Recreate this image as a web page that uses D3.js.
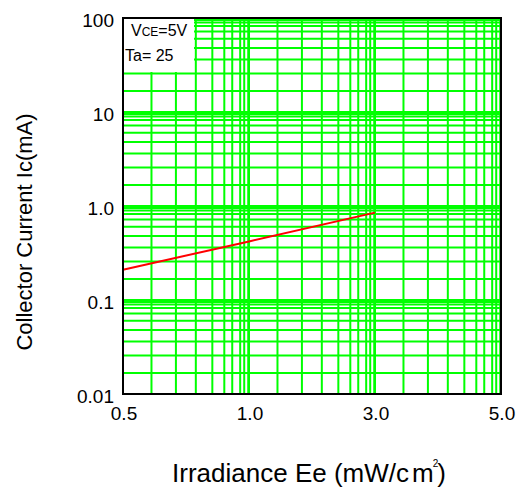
<!DOCTYPE html>
<html lang="en">
<head>
    <meta charset="UTF-8">
    <script src="https://d3js.org/d3.v7.min.js"></script>
    <title>Collector Current vs Irradiance</title>
    <style>
        body { margin: 0; background: #fff; }
        text { font-family: "Liberation Sans", Arial, sans-serif; fill: #000; }
    </style>
</head>
<body>
    <svg width="519" height="487" id="chart"></svg>
    <script>

        // data
        let irradiance = [0.5, 1.0, 3.0];
        let current = [0.21, 0.42, 0.85];

        // axis ticks
        let xTicks = [0.5, 1.0, 3.0, 5.0];
        let xTickLabels = ["0.5", "1.0", "3.0", "5.0"];
        let yTicks = [0.01, 0.1, 1, 10, 100];
        let yTickLabels = ["0.01", "0.1", "1.0", "10", "100"];

        // minor grid lines inside each cell, as fraction of the cell
        let xMinorFrac = [0.226, 0.42, 0.578, 0.709, 0.804, 0.867, 0.93, 0.962, 0.994];
        let yMinorFrac = [0.223, 0.41, 0.559, 0.68, 0.78, 0.856, 0.915, 0.952, 0.979];

        let pLeft = 123, pRight = 501, pTop = 18, pBottom = 394;

        let svg = d3.select("#chart");

        // x axis is split into equal cells, one per tick interval
        let xCell = d3.scaleLinear().domain([0, xTicks.length - 1]).range([pLeft, pRight]);
        let x = d3.scaleLog()
            .domain(xTicks)
            .range(xTicks.map((d, i) => xCell(i)));
        let yCell = d3.scaleLinear().domain([0, yTicks.length - 1]).range([pBottom, pTop]);
        let y = d3.scaleLog().domain([yTicks[0], yTicks[yTicks.length - 1]]).range([pBottom, pTop]);

        let xGrid = [], yGrid = [];
        for (let i = 0; i < xTicks.length - 1; i++) {
            if (i > 0) xGrid.push(xCell(i));
            xMinorFrac.forEach(f => xGrid.push(xCell(i + f)));
        }
        for (let i = 0; i < yTicks.length - 1; i++) {
            if (i > 0) yGrid.push(yCell(i));
            yMinorFrac.forEach(f => yGrid.push(yCell(i + f)));
        }

        let grid = svg.append("g").attr("class", "grid");
        grid.selectAll(".vx").data(xGrid).enter().append("line")
            .attr("x1", d => d).attr("x2", d => d)
            .attr("y1", pTop).attr("y2", pBottom)
            .attr("style", "stroke: #00ff00; stroke-width: 2");
        grid.selectAll(".hy").data(yGrid).enter().append("line")
            .attr("x1", pLeft).attr("x2", pRight)
            .attr("y1", d => d).attr("y2", d => d)
            .attr("style", "stroke: #00ff00; stroke-width: 2");

        // legend box covers the grid
        svg.append("rect")
            .attr("x", pLeft).attr("y", pTop)
            .attr("width", 71).attr("height", 54)
            .attr("fill", "#fff");

        let t1 = svg.append("text").attr("x", 131).attr("y", 36).attr("font-size", 16);
        t1.append("tspan").text("V");
        t1.append("tspan").attr("font-size", 12).text("CE");
        t1.append("tspan").text("=5V");
        svg.append("text").attr("x", 125).attr("y", 61).attr("font-size", 16).text("Ta= 25");

        // curve
        let line = d3.line().x(d => x(d[0])).y(d => y(d[1]));
        svg.append("path")
            .datum(irradiance.map((d, i) => [d, current[i]]))
            .attr("d", line)
            .attr("fill", "none")
            .attr("style", "stroke: #ff0000; stroke-width: 2");

        // frame
        svg.append("rect")
            .attr("x", pLeft).attr("y", pTop)
            .attr("width", pRight - pLeft).attr("height", pBottom - pTop)
            .attr("fill", "none")
            .attr("style", "stroke: #000; stroke-width: 2");

        // tick labels
        svg.selectAll(".xl").data(xTicks).enter().append("text")
            .attr("x", d => x(d) + 1)
            .attr("y", 420)
            .attr("text-anchor", "middle")
            .attr("font-size", 19)
            .text((d, i) => xTickLabels[i]);
        svg.selectAll(".yl").data(yTicks).enter().append("text")
            .attr("x", 114)
            .attr("y", d => y(d) + 9)
            .attr("text-anchor", "end")
            .attr("font-size", 19)
            .text((d, i) => yTickLabels[i]);

        // axis titles
        let xt = svg.append("text")
            .attr("x", 309).attr("y", 482)
            .attr("text-anchor", "middle")
            .attr("font-size", 26);
        xt.append("tspan").text("Irradiance Ee (mW/c");
        xt.append("tspan").attr("dx", 3).text("m");
        xt.append("tspan").attr("dx", -1).attr("dy", -15).attr("font-size", 10).text("2");
        xt.append("tspan").attr("dx", -1).attr("dy", 15).text(")");

        svg.append("text")
            .attr("transform", "translate(32,232) rotate(-90)")
            .attr("text-anchor", "middle")
            .attr("font-size", 22)
            .text("Collector Current Ic(mA)");

    </script>
</body>
</html>
